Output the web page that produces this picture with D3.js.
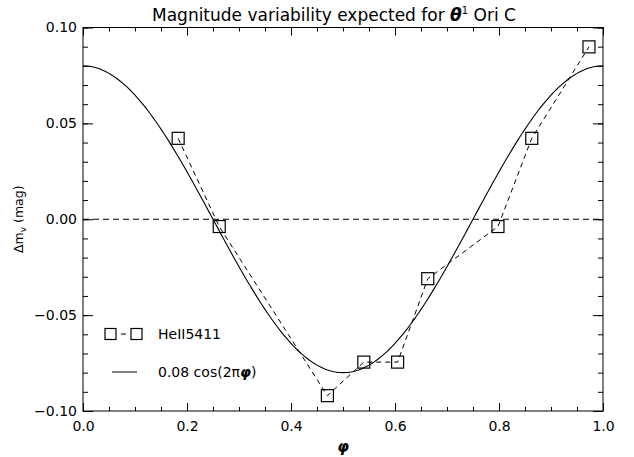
<!DOCTYPE html>
<html>
<head>
<meta charset="utf-8">
<script src="https://cdn.jsdelivr.net/npm/d3@7"></script>
<style>
  body { margin: 0; background: #fff; }
  svg { display: block; font-family: "DejaVu Sans", sans-serif; }
</style>
</head>
<body>
<div id="chart"></div>
<script>
// HeII 5411 magnitude variation vs phase
const phases = [0.183, 0.262, 0.47, 0.54, 0.605, 0.663, 0.798, 0.863, 0.973];
const deltaMag = [0.0422, -0.0038, -0.092, -0.0745, -0.0745, -0.031, -0.0038, 0.0422, 0.0899];
const modelAmplitude = 0.08;

const xTickValues = [0, 0.2, 0.4, 0.6, 0.8, 1.0];
const xTickLabels = ["0.0", "0.2", "0.4", "0.6", "0.8", "1.0"];
const yTickValues = [-0.1, -0.05, 0, 0.05, 0.1];
const yTickLabels = ["\u22120.10", "\u22120.05", "0.00", "0.05", "0.10"];
const legendLabels = ["HeII5411", "0.08 cos(2\u03C0", "\u03C6", ")"];

const drawChart = () => {

  /*******************************/
  /*    Declare the constants    */
  /*******************************/
  const margin = {top: 27.5, right: 31, bottom: 46, left: 83};
  const width = 634;
  const height = 457;
  const innerWidth = width - margin.left - margin.right;
  const innerHeight = height - margin.top - margin.bottom;

  const svg = d3.select("#chart")
    .append("svg")
      .attr("width", width)
      .attr("height", height);

  const innerChart = svg
    .append("g")
      .attr("transform", `translate(${margin.left}, ${margin.top})`);

  /****************************/
  /*    Declare the scales    */
  /****************************/
  const xScale = d3.scaleLinear()
    .domain([0, 1])
    .range([0, innerWidth]);
  const yScale = d3.scaleLinear()
    .domain([-0.1, 0.1])
    .range([innerHeight, 0]);

  /**************************/
  /*      Add the axes      */
  /**************************/
  const xMinor = d3.range(0, 1.0001, 0.05);
  const yMinor = d3.range(-0.1, 0.1001, 0.01);

  const styleAxis = (g) => {
    g.select(".domain").remove();
    g.selectAll(".tick line").attr("stroke", "#000");
    g.selectAll(".tick text")
      .attr("fill", "#000")
      .attr("font-size", 14)
      .attr("font-family", "DejaVu Sans, sans-serif");
  };

  // bottom
  innerChart.append("g")
    .attr("transform", `translate(0, ${innerHeight})`)
    .call(d3.axisBottom(xScale).tickValues(xMinor).tickSize(-4).tickFormat(""))
    .call(styleAxis);
  innerChart.append("g")
    .attr("transform", `translate(0, ${innerHeight})`)
    .call(d3.axisBottom(xScale).tickValues(xTickValues).tickSize(-8).tickPadding(10)
      .tickFormat((d, i) => xTickLabels[i]))
    .call(styleAxis);
  // top
  innerChart.append("g")
    .call(d3.axisTop(xScale).tickValues(xMinor).tickSize(-4).tickFormat(""))
    .call(styleAxis);
  innerChart.append("g")
    .call(d3.axisTop(xScale).tickValues(xTickValues).tickSize(-8).tickFormat(""))
    .call(styleAxis);
  // left
  innerChart.append("g")
    .call(d3.axisLeft(yScale).tickValues(yMinor).tickSize(-5).tickFormat(""))
    .call(styleAxis);
  innerChart.append("g")
    .call(d3.axisLeft(yScale).tickValues(yTickValues).tickSize(-10).tickPadding(6)
      .tickFormat((d, i) => yTickLabels[i]))
    .call(styleAxis);
  // right
  innerChart.append("g")
    .attr("transform", `translate(${innerWidth}, 0)`)
    .call(d3.axisRight(yScale).tickValues(yMinor).tickSize(-5).tickFormat(""))
    .call(styleAxis);
  innerChart.append("g")
    .attr("transform", `translate(${innerWidth}, 0)`)
    .call(d3.axisRight(yScale).tickValues(yTickValues).tickSize(-10).tickFormat(""))
    .call(styleAxis);

  // frame
  innerChart.append("rect")
    .attr("width", innerWidth)
    .attr("height", innerHeight)
    .attr("fill", "none")
    .attr("stroke", "#000")
    .attr("stroke-width", 1);

  // axis titles
  svg.append("text")
    .attr("x", margin.left + innerWidth / 2)
    .attr("y", height - 5)
    .attr("text-anchor", "middle")
    .attr("font-size", 15)
    .attr("font-weight", "bold")
    .attr("font-style", "italic")
    .text("\u03C6");

  const yLabel = svg.append("text")
    .attr("transform", `translate(23, ${margin.top + innerHeight / 2}) rotate(-90)`)
    .attr("text-anchor", "middle")
    .attr("font-size", 12.5);
  yLabel.append("tspan").text("\u0394m");
  yLabel.append("tspan").attr("font-size", 9).attr("dy", 3).text("v");
  yLabel.append("tspan").attr("dy", -3).text(" (mag)");

  const title = svg.append("text")
    .attr("x", 152)
    .attr("y", 21)
    .attr("font-size", 17);
  title.append("tspan").text("Magnitude variability expected for ");
  title.append("tspan").attr("font-weight", "bold").attr("font-style", "italic").text("\u03B8");
  title.append("tspan").attr("font-size", 10).attr("dy", -7).text("1");
  title.append("tspan").attr("dy", 7).text(" Ori C");

  /******************************/
  /*      Zero line + model     */
  /******************************/
  innerChart.append("line")
    .attr("x1", 0)
    .attr("x2", innerWidth)
    .attr("y1", yScale(0))
    .attr("y2", yScale(0))
    .attr("stroke", "#000")
    .attr("stroke-dasharray", "6,4");

  const modelPhases = d3.range(0, 1.0001, 0.005);
  const modelLine = d3.line()
    .x(d => xScale(d))
    .y(d => yScale(modelAmplitude * Math.cos(2 * Math.PI * d)));
  innerChart.append("path")
    .attr("d", modelLine(modelPhases))
    .attr("fill", "none")
    .attr("stroke", "#000")
    .attr("stroke-width", 1.1);

  /******************************/
  /*        HeII5411 data       */
  /******************************/
  const points = phases.map((p, i) => ({phase: p, dm: deltaMag[i]}));
  const dataLine = d3.line()
    .x(d => xScale(d.phase))
    .y(d => yScale(d.dm));
  innerChart.append("path")
    .attr("d", dataLine(points))
    .attr("fill", "none")
    .attr("stroke", "#000")
    .attr("stroke-dasharray", "5,4");

  const boxSize = 12;
  innerChart.selectAll(".box")
    .data(points)
    .join("rect")
      .attr("class", "box")
      .attr("x", d => xScale(d.phase) - boxSize / 2)
      .attr("y", d => yScale(d.dm) - boxSize / 2)
      .attr("width", boxSize)
      .attr("height", boxSize)
      .attr("fill", "none")
      .attr("stroke", "#000")
      .attr("stroke-width", 1.2);

  /**************************/
  /*        Legend          */
  /**************************/
  const legend = svg.append("g").attr("transform", "translate(105, 334)");
  [0, 26].forEach(dx => {
    legend.append("rect")
      .attr("x", dx).attr("y", -5.5)
      .attr("width", 11).attr("height", 11)
      .attr("fill", "none").attr("stroke", "#000").attr("stroke-width", 1.2);
  });
  legend.append("line")
    .attr("x1", 16).attr("x2", 21).attr("y1", 0).attr("y2", 0)
    .attr("stroke", "#000");
  legend.append("text")
    .attr("x", 53).attr("y", 0).attr("dy", "0.35em")
    .attr("font-size", 14)
    .text(legendLabels[0]);

  legend.append("line")
    .attr("x1", 7).attr("x2", 32).attr("y1", 38).attr("y2", 38)
    .attr("stroke", "#000");
  const modelText = legend.append("text")
    .attr("x", 53).attr("y", 38).attr("dy", "0.35em")
    .attr("font-size", 14);
  modelText.append("tspan").text(legendLabels[1]);
  modelText.append("tspan").attr("font-weight", "bold").attr("font-style", "italic").text(legendLabels[2]);
  modelText.append("tspan").text(legendLabels[3]);
};

drawChart();
</script>
</body>
</html>
